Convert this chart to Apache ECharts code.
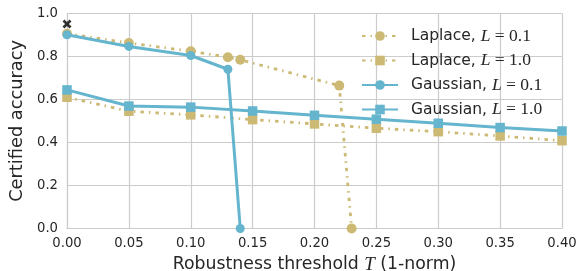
<!DOCTYPE html>
<html>
<head>
<meta charset="utf-8">
<script src="https://cdn.jsdelivr.net/npm/echarts@6/dist/echarts.min.js"></script>
<style>
html,body{margin:0;padding:0;background:#fff;}
#c{width:587px;height:271px;}
</style>
</head>
<body>
<div id="c"></div>
<script>
// Data
const laplace01X = [0.00, 0.05, 0.10, 0.13, 0.14, 0.22, 0.23];
const laplace01Y = [0.905, 0.862, 0.824, 0.796, 0.784, 0.664, 0.0];
const gauss01X = [0.00, 0.05, 0.10, 0.13, 0.14];
const gauss01Y = [0.900, 0.846, 0.804, 0.740, 0.0];
const thresholds = [0.00, 0.05, 0.10, 0.15, 0.20, 0.25, 0.30, 0.35, 0.40];
const laplace10Y = [0.610, 0.545, 0.528, 0.506, 0.486, 0.466, 0.450, 0.430, 0.408];
const gauss10Y = [0.644, 0.569, 0.564, 0.546, 0.526, 0.508, 0.489, 0.469, 0.453];
const cleanX = [0.00];
const cleanY = [0.95];
const seriesNames = ['Laplace, L=0.1', 'Laplace, L=1.0', 'Gaussian, L=0.1', 'Gaussian, L=1.0'];
const xLabel = ['Robustness threshold ', 'T', ' (1-norm)'];
const yLabel = 'Certified accuracy';

const TAN = '#CCB974', BLUE = '#64B5CD', TXT = '#262626', GRID = '#cccccc';
const zip = (xs, ys) => xs.map((x, i) => [x, ys[i]]);
const dotDash = [3.5, 5, 1.5, 5];

const chart = echarts.init(document.getElementById('c'), null, {renderer: 'canvas'});
chart.setOption({
  animation: false,
  grid: {left: 67, right: 25, top: 13.3, bottom: 42.5, containLabel: false, outerBoundsMode: 'none'},
  legend: {
    left: 356, top: 22, orient: 'vertical',
    itemWidth: 36, itemHeight: 12, itemGap: 6.5,
    data: seriesNames,
    textStyle: {padding: [0, 0, 0, 8], lineHeight: 18,
      rich: {
        a: {fontFamily: 'DejaVu Sans', fontSize: 15.5, color: TXT},
        m: {fontFamily: 'Liberation Serif', fontStyle: 'italic', fontSize: 17.5, color: TXT},
        e: {fontFamily: 'Liberation Serif', fontSize: 17.5, color: TXT}
      }},
    formatter: function (n) {
      const p = n.split(', L=');
      return '{a|' + p[0] + ', }{m|L}{e| = ' + p[1] + '}';
    }
  },
  xAxis: {
    type: 'value', min: 0, max: 0.4, interval: 0.05,
    name: '{a|' + xLabel[0] + '}{t|' + xLabel[1] + '}{a|' + xLabel[2] + '}',
    nameLocation: 'middle', nameGap: 22,
    nameTextStyle: {rich: {
      a: {fontFamily: 'DejaVu Sans', fontSize: 17.3, color: TXT},
      t: {fontFamily: 'Liberation Serif', fontStyle: 'italic', fontSize: 19, color: TXT}
    }},
    axisLine: {show: true, lineStyle: {color: GRID, width: 1.2}},
    axisTick: {show: false},
    axisLabel: {fontFamily: 'DejaVu Sans', fontSize: 13.2, color: TXT, margin: 9,
      formatter: v => v.toFixed(2)},
    splitLine: {show: true, lineStyle: {color: GRID, width: 1.2}}
  },
  yAxis: {
    type: 'value', min: 0, max: 1, interval: 0.2,
    name: yLabel, nameLocation: 'middle', nameGap: 35,
    nameTextStyle: {fontFamily: 'DejaVu Sans', fontSize: 17.8, color: TXT},
    axisLine: {show: true, lineStyle: {color: GRID, width: 1.2}},
    axisTick: {show: false},
    axisLabel: {fontFamily: 'DejaVu Sans', fontSize: 13.2, color: TXT, margin: 9,
      formatter: v => v.toFixed(1)},
    splitLine: {show: true, lineStyle: {color: GRID, width: 1.2}}
  },
  series: [
    {name: seriesNames[0], type: 'line', data: zip(laplace01X, laplace01Y),
      symbol: 'circle', symbolSize: 10, showAllSymbol: true, clip: false,
      lineStyle: {color: TAN, width: 2.8, type: dotDash},
      itemStyle: {color: TAN}, z: 2},
    {name: seriesNames[1], type: 'line', data: zip(thresholds, laplace10Y),
      symbol: 'rect', symbolSize: 9.5, showAllSymbol: true, clip: false,
      lineStyle: {color: TAN, width: 2.8, type: dotDash},
      itemStyle: {color: TAN}, z: 2},
    {name: seriesNames[2], type: 'line', data: zip(gauss01X, gauss01Y),
      symbol: 'circle', symbolSize: 9, showAllSymbol: true, clip: false,
      lineStyle: {color: BLUE, width: 3},
      itemStyle: {color: BLUE}, z: 3},
    {name: seriesNames[3], type: 'line', data: zip(thresholds, gauss10Y),
      symbol: 'rect', symbolSize: 9.5, showAllSymbol: true, clip: false,
      lineStyle: {color: BLUE, width: 3},
      itemStyle: {color: BLUE}, z: 3},
    {name: 'clean', type: 'scatter', data: zip(cleanX, cleanY),
      symbol: 'path://M0,2.2L2.2,0L5,2.8L7.8,0L10,2.2L7.2,5L10,7.8L7.8,10L5,7.2L2.2,10L0,7.8L2.8,5Z',
      symbolSize: 9, itemStyle: {color: '#000'}, z: 5, clip: false}
  ]
});
</script>
</body>
</html>
